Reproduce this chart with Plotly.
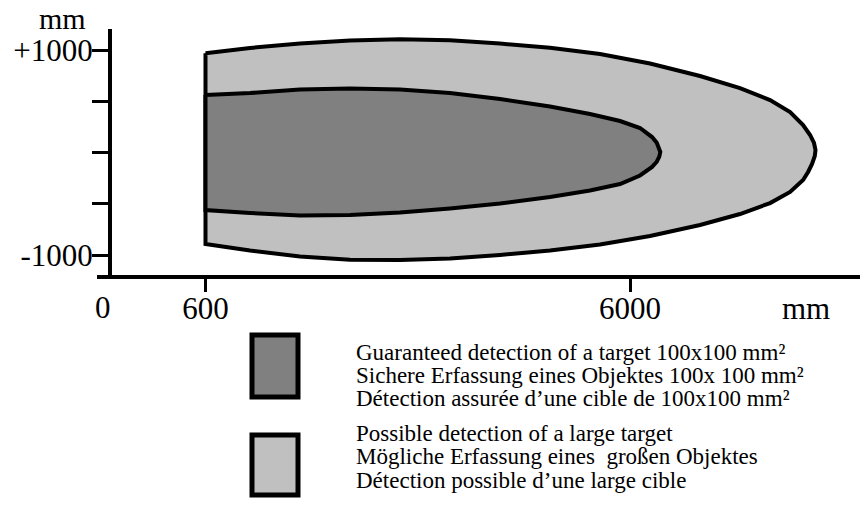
import plotly.graph_objects as go

# ---- data (mm) ----
outer_upper_x = [600, 1166, 1802, 2438, 3074, 3710, 4346, 4982, 5618, 6254, 6890, 7399, 7781, 8036, 8201, 8290, 8340, 8359]
outer_upper_y = [968, 1020, 1063, 1093, 1104, 1095, 1063, 1021, 961, 868, 746, 629, 512, 395, 268, 171, 93, 24]
outer_lower_x = [8350, 8315, 8265, 8201, 8036, 7781, 7399, 6890, 6254, 5618, 4982, 4346, 3710, 3074, 2438, 1802, 1166, 600]
outer_lower_y = [-34, -112, -190, -268, -385, -493, -600, -707, -815, -898, -956, -1000, -1034, -1049, -1046, -1015, -956, -893]

inner_upper_x = [600, 1166, 1802, 2438, 3074, 3710, 4346, 4982, 5491, 5873, 6127, 6280, 6340, 6372, 6385]
inner_upper_y = [561, 580, 615, 624, 615, 580, 522, 449, 376, 307, 239, 151, 95, 45, 5]
inner_lower_x = [6372, 6340, 6280, 6127, 5873, 5491, 4982, 4346, 3710, 3074, 2438, 1802, 1166, 600]
inner_lower_y = [-40, -90, -141, -224, -307, -371, -434, -498, -546, -585, -610, -615, -590, -561]

x_tick_vals = [600, 6000]
x_tick_text = ["600", "6000"]
y_tick_vals = [1000, 500, 0, -500, -1000]
y_tick_text = ["+1000", "", "", "", "-1000"]

legend_dark = ["Guaranteed detection of a target 100x100 mm²",
               "Sichere Erfassung eines Objektes 100x 100 mm²",
               "Détection assurée d’une cible de 100x100 mm²"]
legend_light = ["Possible detection of a large target",
                "Mögliche Erfassung eines  großen Objektes",
                "Détection possible d’une large cible"]

DARK = "#808080"
LIGHT = "#c0c0c0"
FONT = "Liberation Serif"

W, H = 867, 505
L, R, T, B = 97, 7, 29, 230
PW, PH = W - L - R, H - T - B


def px(xp):
    return (xp - L) / PW


def py(yp):
    return (H - B - yp) / PH


fig = go.Figure()
fig.add_trace(go.Scatter(
    x=outer_upper_x + outer_lower_x + [outer_upper_x[0]],
    y=outer_upper_y + outer_lower_y + [outer_upper_y[0]],
    mode="lines", fill="toself", fillcolor=LIGHT,
    line=dict(color="black", width=4), hoverinfo="skip", showlegend=False))
fig.add_trace(go.Scatter(
    x=inner_upper_x + inner_lower_x + [inner_upper_x[0]],
    y=inner_upper_y + inner_lower_y + [inner_upper_y[0]],
    mode="lines", fill="toself", fillcolor=DARK,
    line=dict(color="black", width=4), hoverinfo="skip", showlegend=False))

annotations = []
annotations.append(dict(x=px(62), y=py(0), xref="paper", yref="paper", text="mm",
                        showarrow=False, xanchor="center", yanchor="top",
                        font=dict(family=FONT, size=30, color="black")))
annotations.append(dict(x=px(103), y=py(307), xref="paper", yref="paper", text="0",
                        showarrow=False, xanchor="center", yanchor="middle",
                        font=dict(family=FONT, size=31, color="black")))
annotations.append(dict(x=px(806), y=py(308), xref="paper", yref="paper", text="mm",
                        showarrow=False, xanchor="center", yanchor="middle",
                        font=dict(family=FONT, size=31, color="black")))

for i, t in enumerate(legend_dark):
    annotations.append(dict(x=px(354), y=py(352 + 23.5 * i), xref="paper", yref="paper", text=t,
                            showarrow=False, xanchor="left", yanchor="middle",
                            font=dict(family=FONT, size=23, color="black")))
for i, t in enumerate(legend_light):
    annotations.append(dict(x=px(354), y=py(433 + 23.5 * i), xref="paper", yref="paper", text=t,
                            showarrow=False, xanchor="left", yanchor="middle",
                            font=dict(family=FONT, size=23, color="black")))

shapes = [
    dict(type="rect", xref="paper", yref="paper", x0=px(252), x1=px(298), y0=py(335), y1=py(397),
         fillcolor=DARK, line=dict(color="black", width=5)),
    dict(type="rect", xref="paper", yref="paper", x0=px(252), x1=px(298), y0=py(435), y1=py(495),
         fillcolor=LIGHT, line=dict(color="black", width=5)),
]

fig.update_layout(
    width=W, height=H,
    margin=dict(l=L, r=R, t=T, b=B, pad=0),
    paper_bgcolor="white", plot_bgcolor="white",
    annotations=annotations, shapes=shapes,
    xaxis=dict(range=[-780, 8925], domain=[0, 1], showgrid=False, zeroline=False,
               showline=True, linecolor="black", linewidth=4,
               tickmode="array", tickvals=x_tick_vals, ticktext=x_tick_text,
               ticks="outside", ticklen=13, tickwidth=3, tickcolor="black",
               ticklabelstandoff=-10,
               tickfont=dict(family=FONT, size=31, color="black")),
    yaxis=dict(range=[-1195, 1205], showgrid=False, zeroline=False,
               anchor="free", position=(110 - L) / PW,
               showline=True, linecolor="black", linewidth=4,
               tickmode="array", tickvals=y_tick_vals, ticktext=y_tick_text,
               ticks="outside", ticklen=16, tickwidth=3, tickcolor="black",
               ticklabelstandoff=-7,
               tickfont=dict(family=FONT, size=31, color="black")),
)

fig.write_html("out.html", config={"displayModeBar": False},
               post_script="document.body.style.margin='0';document.body.style.overflow='hidden';")
